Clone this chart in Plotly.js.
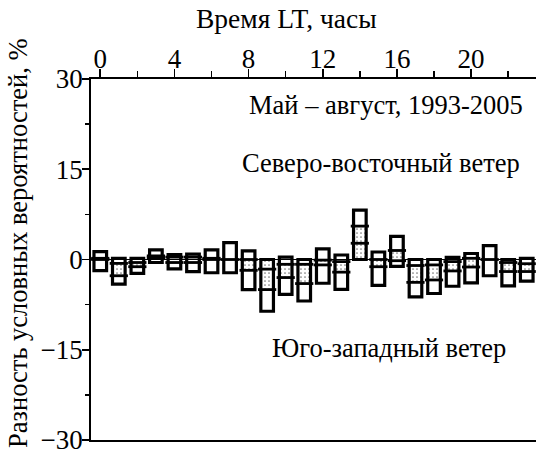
<!DOCTYPE html>
<html>
<head>
<meta charset="utf-8">
<script src="https://cdn.plot.ly/plotly-3.0.1.min.js"></script>
<style>html,body{margin:0;padding:0;background:#fff;}#chart{width:536px;height:454px;}</style>
</head>
<body>
<div id="chart"></div>
<script>
// Hours (local time)
const hours = [0,1,2,3,4,5,6,7,8,9,10,11,12,13,14,15,16,17,18,19,20,21,22,23];
// Outer box limits, %
const boxHigh = [1.3, 0.2, 0.2, 1.6, 0.8, 0.9, 1.6, 2.8, 1.45, 0, 0.4, 0, 1.75, 0.75, 8.2, 1.25, 3.85, 0, 0, 0.35, 1.0, 2.3, 0, 0.2];
const boxLow  = [-1.85, -4.1, -2.3, -0.5, -1.55, -2.0, -2.2, -2.2, -5.0, -8.6, -5.8, -6.9, -3.95, -4.95, 0, -4.3, -1.15, -6.2, -5.65, -4.45, -3.9, -2.7, -4.4, -3.6];
// Inner dividing lines, %
const lineUpper = [0.2, -0.65, -0.5, 0.6, 0.4, 0.4, 0.2, 0, 0, -1.6, -0.8, -0.8, -0.1, -0.35, 5.55, 0, 1.5, -1.0, -0.9, -0.35, 0.2, 0, -0.5, -0.7];
const lineLower = [0, -2.7, -1.2, 0.3, -0.5, -0.5, 0, null, -1.8, -5.0, -3.0, -4.0, -0.9, -2.1, 2.7, -1.2, -0.2, -3.8, -3.4, -1.9, -1.25, null, -2.0, -2.0];
// Dotted (shaded) band, %
const dotLow  = [null, -2.7, -1.2, 0.3, null, null, null, null, -1.8, -5.0, -3.0, -4.0, -0.9, -2.1, 0, -1.2, -0.2, -3.8, -3.4, -1.9, -1.25, null, -2.0, -2.0];
const dotHigh = [null, -0.65, -0.5, 0.6, null, null, null, null, 0, -0.2, -0.8, -0.8, -0.1, -0.35, 5.55, 0, 1.5, -1.0, -0.9, -0.35, 0.2, null, -0.5, -0.7];

const xTickVals = [0,4,8,12,16,20];
const xMinorVals = [2,6,10,14,18,22];
const yTickVals = [-30,-15,0,15,30];
const yMinorVals = [-22.5,-7.5,7.5,22.5];

const xTitle = 'Время LT, часы';
const yTitle = 'Разность условных вероятностей, %';

const FONT = '"Liberation Serif", "Times New Roman", serif';
const BW = 0.68;

const dotBase = dotLow.map(v => v === null ? null : v);
const dotH = dotLow.map((v,i) => v === null ? null : dotHigh[i] - v);

const traces = [
  {
    type:'bar', x:hours, y:dotH, base:dotBase, width:BW,
    marker:{color:'white', line:{width:0},
      pattern:{shape:'.', fgcolor:'#7a7a7a', bgcolor:'white', size:4, solidity:0.14}},
    hoverinfo:'skip', showlegend:false
  },
  {
    type:'bar', x:hours, y:boxHigh.map((h,i)=>h-boxLow[i]), base:boxLow, width:BW,
    marker:{color:'rgba(0,0,0,0)', line:{color:'black', width:3.2}},
    showlegend:false
  },
  {
    type:'scatter', mode:'markers', x:hours, y:lineUpper,
    marker:{symbol:'line-ew', size:13, line:{color:'black', width:2.8}},
    showlegend:false
  },
  {
    type:'scatter', mode:'markers', x:hours, y:lineLower,
    marker:{symbol:'line-ew', size:13, line:{color:'black', width:2.8}},
    showlegend:false
  }
];

const layout = {
  width:536, height:454,
  margin:{l:91, r:0, t:79, b:14, pad:0},
  paper_bgcolor:'white', plot_bgcolor:'white',
  barmode:'overlay',
  showlegend:false,
  font:{family:FONT, color:'black'},
  xaxis:{
    side:'top', range:[-0.5, 23.5], tickmode:'array', tickvals:xTickVals,
    ticks:'outside', ticklen:8, tickwidth:1.6, tickcolor:'black',
    showline:true, linecolor:'black', linewidth:1.8, mirror:true,
    showgrid:false, zeroline:false, ticklabelstandoff:-10, ticklabeloverflow:'allow',
    minor:{tickmode:'array', tickvals:xMinorVals, ticks:'outside', ticklen:6, tickwidth:1.6, tickcolor:'black', showgrid:false},
    tickfont:{family:FONT, size:27, color:'black'}
  },
  yaxis:{
    range:[-30, 30], tickmode:'array', tickvals:yTickVals,
    ticks:'outside', ticklen:7, tickwidth:1.6, tickcolor:'black',
    showline:true, linecolor:'black', linewidth:1.8,
    showgrid:false, zeroline:true, zerolinecolor:'black', zerolinewidth:1.6,
    ticklabelstandoff:-6, ticklabeloverflow:'allow',
    minor:{tickmode:'array', tickvals:yMinorVals, ticks:'outside', ticklen:4, tickwidth:1.6, tickcolor:'black', showgrid:false},
    tickfont:{family:FONT, size:27, color:'black'}
  },
  annotations:[
    {xref:'paper', yref:'paper', x:(286-91)/445, y:(440-18)/361, xanchor:'center', yanchor:'middle', showarrow:false,
     text:xTitle, font:{family:FONT, size:27.5, color:'black'}},
    {xref:'paper', yref:'paper', x:(18-91)/445, y:(440-243)/361, xanchor:'center', yanchor:'middle', showarrow:false,
     textangle:-90, text:yTitle, font:{family:FONT, size:26.5, color:'black'}},
    {xref:'paper', yref:'paper', x:0.975, y:0.928, xanchor:'right', yanchor:'middle', showarrow:false,
     text:'Май – август, 1993-2005', font:{family:FONT, size:26.5, color:'black'}},
    {xref:'paper', yref:'paper', x:0.968, y:0.767, xanchor:'right', yanchor:'middle', showarrow:false,
     text:'Северо-восточный ветер', font:{family:FONT, size:26.5, color:'black'}},
    {xref:'paper', yref:'paper', x:0.937, y:0.255, xanchor:'right', yanchor:'middle', showarrow:false,
     text:'Юго-западный ветер', font:{family:FONT, size:26.5, color:'black'}}
  ]
};

Plotly.newPlot('chart', traces, layout, {staticPlot:true, displayModeBar:false});
</script>
</body>
</html>
